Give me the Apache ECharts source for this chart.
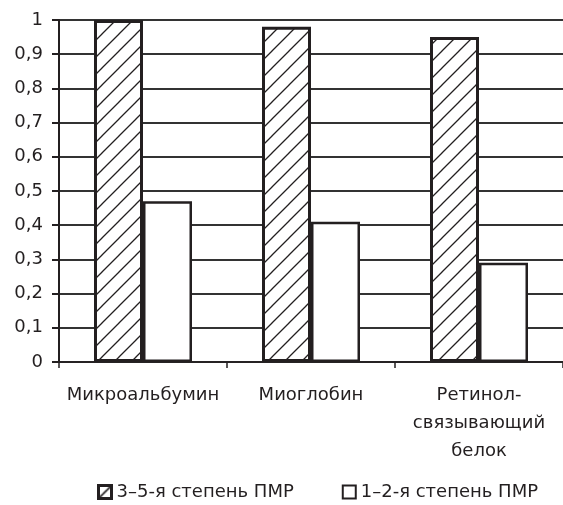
<!DOCTYPE html>
<html>
<head>
<meta charset="utf-8">
<script src="https://cdn.jsdelivr.net/npm/echarts@6/dist/echarts.min.js"></script>
<style>
html,body{margin:0;padding:0;background:#fff;}
#chart{width:563px;height:505px;}
</style>
</head>
<body>
<div id="chart"></div>
<script>
const categories = ['Микроальбумин', 'Миоглобин', 'Ретинол-\nсвязывающий\nбелок'];
const seriesNames = ['3–5-я степень ПМР', '1–2-я степень ПМР'];
const severeValues = [1.0, 0.98, 0.95];
const mildValues = [0.47, 0.41, 0.29];
const yTicks = { min: 0, max: 1, interval: 0.1 };

const INK = '#231f20';
const FONT = 'DejaVu Sans';

function hatchTile(T, lw) {
  const cv = document.createElement('canvas');
  cv.width = T; cv.height = T;
  const c = cv.getContext('2d');
  c.fillStyle = '#fff';
  c.fillRect(0, 0, T, T);
  c.strokeStyle = INK;
  c.lineWidth = lw;
  c.beginPath();
  c.moveTo(-2, T + 2); c.lineTo(T + 2, -2);
  c.moveTo(-2, 2); c.lineTo(2, -2);
  c.moveTo(T - 2, T + 2); c.lineTo(T + 2, T - 2);
  c.stroke();
  return cv;
}
const barTile = hatchTile(17, 1.3);
const iconTile = hatchTile(13, 1.6);

const chart = echarts.init(document.getElementById('chart'), null, { renderer: 'canvas' });
chart.setOption({
  animation: false,
  backgroundColor: '#fff',
  textStyle: { fontFamily: FONT },
  grid: { left: 59, top: 20, bottom: 143, right: -10, containLabel: false },
  legend: {
    left: 97,
    top: 482,
    padding: 0,
    icon: 'rect',
    itemWidth: 13,
    itemHeight: 13,
    itemGap: 48,
    textStyle: { fontFamily: FONT, fontSize: 18, color: INK, lineHeight: 20 },
    data: [
      { name: seriesNames[0], itemStyle: { color: { image: iconTile, repeat: 'repeat' }, borderColor: INK, borderWidth: 3 } },
      { name: seriesNames[1] }
    ]
  },
  xAxis: {
    type: 'category',
    data: categories,
    axisLine: { lineStyle: { color: INK, width: 1.5 } },
    axisTick: { show: true, length: 6, lineStyle: { color: INK, width: 1.5 } },
    axisLabel: { fontFamily: FONT, fontSize: 18, color: INK, margin: 19, lineHeight: 28, interval: 0 },
    splitLine: { show: false }
  },
  yAxis: {
    type: 'value',
    min: yTicks.min,
    max: yTicks.max,
    interval: yTicks.interval,
    axisLine: { show: true, lineStyle: { color: INK, width: 2 } },
    axisTick: { show: true, length: 7, lineStyle: { color: INK, width: 2 } },
    axisLabel: {
      fontFamily: FONT, fontSize: 18, color: INK, margin: 16,
      formatter: v => String(+v.toFixed(1)).replace('.', ',')
    },
    splitLine: { show: true, lineStyle: { color: '#333', width: 2 } }
  },
  series: [
    {
      name: seriesNames[0],
      type: 'bar',
      data: severeValues,
      barWidth: 49,
      barGap: '0%',
      itemStyle: { color: { image: barTile, repeat: 'repeat' }, borderColor: INK, borderWidth: 3 }
    },
    {
      name: seriesNames[1],
      type: 'bar',
      data: mildValues,
      barWidth: 49,
      itemStyle: { color: '#fff', borderColor: INK, borderWidth: 2.5 }
    }
  ]
});
</script>
</body>
</html>
